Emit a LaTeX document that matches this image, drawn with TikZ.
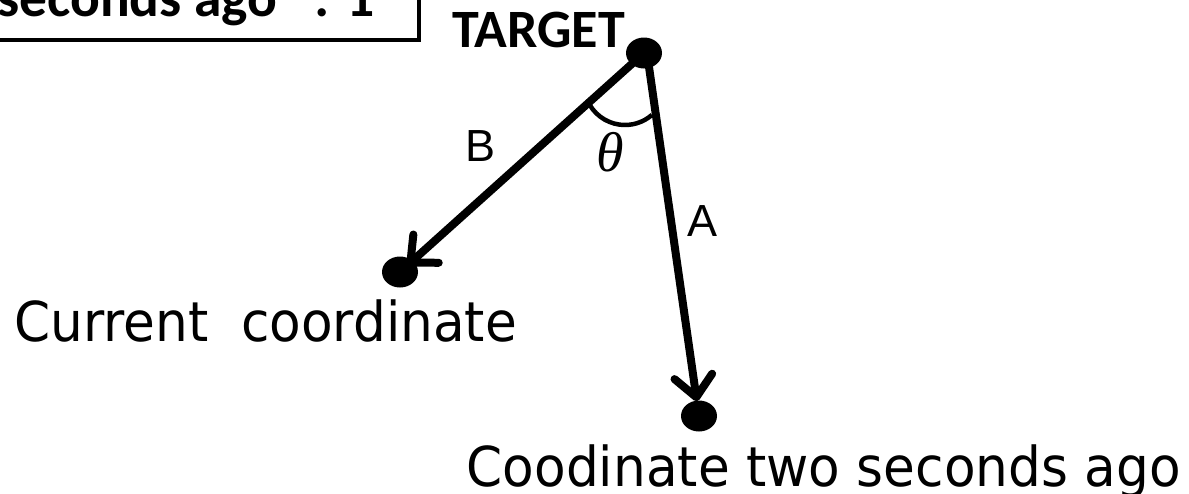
\documentclass[tikz,border=0pt]{standalone}
\usepackage{fontspec}
\usetikzlibrary{arrows.meta,shapes.geometric}
\newfontfamily\calibri{Carlito}
\newfontfamily\lucida[FakeStretch=0.94]{DejaVu Sans}
\newfontfamily\arialf{Liberation Sans}
\newfontfamily\timesf{Liberation Serif}
\begin{document}
\begin{tikzpicture}[x=1pt,y=-1pt,
  dot/.style={ellipse, fill=black, inner sep=0pt, minimum width=36pt, minimum height=31pt},
  lbl/.style={inner sep=0pt, font=\lucida\fontsize{55}{60}\selectfont},
  letter/.style={inner sep=0pt, font=\arialf\fontsize{45}{50}\selectfont},
  boldtxt/.style={inner sep=0pt, font=\calibri\bfseries\fontsize{55.5}{60}\selectfont},
  conn/.style={line width=8pt, line cap=round, -{Straight Barb[length=21pt,width=38pt,round]}},
  anglearc/.style={line width=4.5pt}]
\useasboundingbox (0,0) rectangle (1189,493);
\clip (0,0) rectangle (1189,493);
% note box (cut by the picture edge)
\draw[line width=4pt] (-40,-80) rectangle (419,40);
\node[boldtxt, anchor=base west] (note) at (-3,16) {seconds ago” : 1};
% points
\node[dot] (T) at (644,53) {};
\node[dot] (C) at (400,272) {};
\node[dot] (P) at (699,416) {};
% connectors
\draw[conn, shorten >=10pt] (T.center) -- (C.center);
\draw[conn, shorten >=15pt] ([xshift=3pt]T.center) -- (P.center);
% angle
\coordinate (arcc) at (625,84);
\draw[anglearc] (arcc) ++(157.2:41) arc[start angle=157.2, end angle=48.9, radius=41];
% labels
\node[boldtxt, anchor=base west, font=\calibri\bfseries\fontsize{54}{58}\selectfont] (tl) at (452,47) {TARGET};
\node[letter] (lb) at (481,146) {B};
\node[letter] (la) at (702,221) {A};
\node[inner sep=0pt, font=\timesf\itshape\fontsize{56}{60}\selectfont] (th) at (610,152) {θ};
\node[lbl, anchor=base west] (cl) at (14,341) {Current\ \ coordinate};
\node[lbl, anchor=base east] (pl) at (1181,486) {Coodinate two seconds ago};
\end{tikzpicture}
\end{document}
